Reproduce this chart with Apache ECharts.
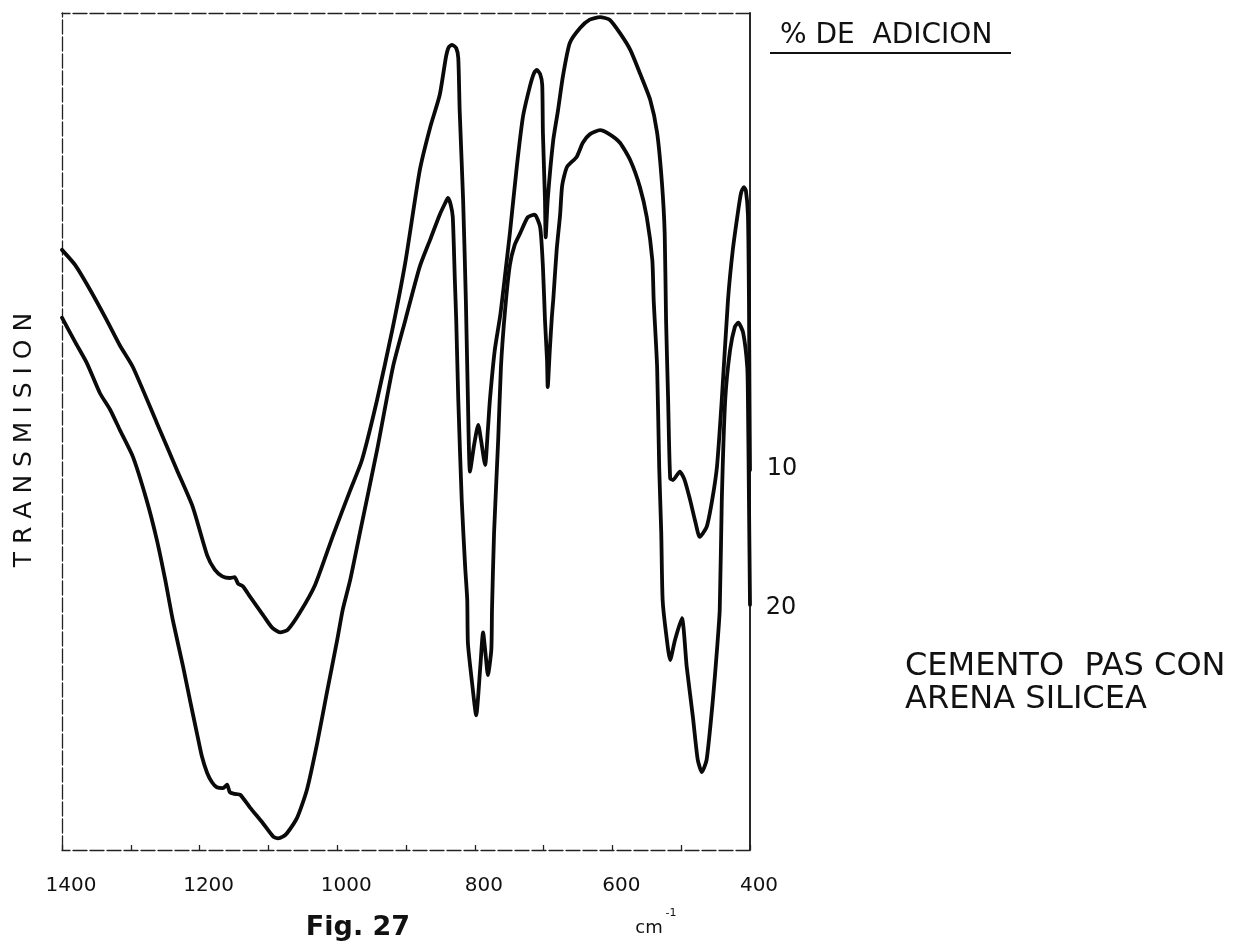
<!DOCTYPE html>
<html>
<head>
<meta charset="utf-8">
<script src="https://cdn.jsdelivr.net/npm/echarts@6/dist/echarts.min.js"></script>
<style>
  html, body { margin: 0; padding: 0; background: #fff; }
  #chart { width: 1249px; height: 950px; }
</style>
</head>
<body>
<div id="chart"></div>
<script>
// IR transmission spectra, wavenumber (cm-1) vs transmission (relative units)
const curve10Wn = [1400,1381,1359,1335,1316,1297,1262,1233,1210,1189,1178,1167,1156,1149,1144,1137,1127,1108,1095,1083,1072,1054,1032,1006,981,964,942,920,901,880,865,851,842,838,833,827,824,822,817,813,810,807,801,795,791,785,781,778,771,763,756,749,739,730,720,714,710,705,702,701,698,697,694,686,679,672,662,647,633,618,604,589,574,560,545,535,528,524,522,519,516,512,502,495,487,480,473,463,455,448,441,432,425,417,413,409,406,403,401.5,400.7,400];
const curve10T  = [71.7,69.9,66.9,63.3,60.3,57.7,51.0,45.4,41.0,35.2,33.5,32.7,32.5,32.6,31.8,31.5,30.3,28.1,26.6,26.0,26.3,28.4,31.7,37.6,43.0,46.6,53.8,62.1,70.2,81.2,86.3,90.2,94.7,95.9,96.2,95.8,94.6,88.4,77.7,65.7,53.8,45.2,48.4,50.8,49.0,46.0,50.2,53.8,59.7,63.9,68.7,73.7,81.6,87.6,91.2,92.8,93.2,92.7,91.4,85.7,77.7,73.2,77.7,84.8,88.4,92.4,96.4,98.2,99.2,99.5,99.2,97.6,95.6,92.8,89.6,85.7,79.7,73.7,63.3,53.8,44.4,44.2,45.2,44.2,41.8,39.4,37.4,38.6,41.8,45.8,53.8,65.7,71.7,76.5,78.5,79.2,78.8,75.9,65.7,53.8,45.4];

const curve20Wn = [1400,1381,1364,1345,1330,1316,1297,1277,1262,1250,1239,1224,1214,1204,1197,1189,1182,1175,1166,1160,1156,1149,1141,1127,1108,1093,1086,1079,1073,1058,1044,1029,1015,1000,992,981,967,942,919,901,880,865,851,843,839,835,832,829,827,824,819,814,811,810,804,798,792,788,784,781,776,775,772,766,762,756,749,742,734,723,713,705,701,698,695,694,691,688,686,681,676,673,666,652,643,633,618,604,589,574,560,550,542,540,535,532,529,527,522,516,509,499,492,483,476,470,463,454,448,444,441,436,429,422,417,410,404,403,401.5,400];
const curve20T  = [63.6,60.7,58.2,54.6,52.6,50.2,47.0,41.8,37.0,32.3,27.5,21.9,17.9,14.0,11.3,9.2,8.1,7.5,7.4,7.8,6.9,6.7,6.6,5.1,3.2,1.6,1.4,1.6,2.0,3.9,7.2,12.8,18.8,25.1,28.7,32.3,37.9,47.8,57.7,63.3,69.7,72.9,75.9,77.3,77.9,77.1,75.6,68.1,63.3,53.8,41.8,33.8,29.9,24.7,20.0,16.1,21.9,26.0,23.1,20.9,23.9,28.7,37.9,49.0,57.7,64.5,69.9,72.3,73.7,75.6,75.9,74.4,69.7,63.3,58.5,55.3,59.7,63.7,65.7,71.7,75.9,79.4,81.6,82.8,84.5,85.5,86.0,85.5,84.5,82.4,79.2,75.6,70.5,65.7,57.7,45.8,37.9,29.9,25.9,22.7,25.1,27.7,21.9,15.9,10.8,9.3,10.8,17.9,23.9,28.7,41.8,53.8,59.7,62.5,63.0,61.8,57.7,53.8,41.8,29.3];

const seriesNames = ['10', '20'];
const xTickLabels = [1400, 1200, 1000, 800, 600, 400];

const zip = (a, b) => a.map((v, i) => [v, b[i]]);

const chart = echarts.init(document.getElementById('chart'), null, { renderer: 'canvas' });

const frameDash = { color: '#222', width: 1.3, type: [14, 3] };
const ink = '#0a0a0a';
const font = 'DejaVu Sans';

const lineSeries = (name, wn, t) => ({
  name: name,
  type: 'line',
  data: zip(wn, t),
  showSymbol: false,
  smooth: 0.2,
  lineStyle: { color: ink, width: 3.8, cap: 'round', join: 'round' },
  silent: true
});

chart.setOption({
  animation: false,
  backgroundColor: '#fff',
  grid: { left: 62, right: 499, top: 13, bottom: 100 },
  xAxis: [
    {
      type: 'value',
      min: 400, max: 1400, interval: 100,
      inverse: true,
      position: 'bottom',
      axisLine: { show: true, lineStyle: frameDash },
      axisTick: { show: true, inside: true, length: 5, lineStyle: { color: '#222', width: 1.3 } },
      axisLabel: {
        show: true, margin: 26, padding: [0, 0, 0, 18],
        color: '#111', fontFamily: font, fontSize: 20,
        formatter: v => (xTickLabels.indexOf(v) >= 0 ? String(v) : '')
      },
      splitLine: { show: false }
    },
    {
      type: 'value',
      min: 400, max: 1400,
      inverse: true,
      position: 'top',
      axisLine: { show: true, onZero: false, lineStyle: frameDash },
      axisTick: { show: false },
      axisLabel: { show: false },
      splitLine: { show: false }
    }
  ],
  yAxis: [
    {
      type: 'value', min: 0, max: 100,
      position: 'left',
      axisLine: { show: true, onZero: false, lineStyle: frameDash },
      axisTick: { show: false },
      axisLabel: { show: false },
      splitLine: { show: false }
    },
    {
      type: 'value', min: 0, max: 100,
      position: 'right',
      axisLine: { show: true, onZero: false, lineStyle: { color: '#111', width: 1.8 } },
      axisTick: { show: false },
      axisLabel: { show: false },
      splitLine: { show: false }
    }
  ],
  series: [
    lineSeries(seriesNames[0], curve10Wn, curve10T),
    lineSeries(seriesNames[1], curve20Wn, curve20T)
  ],
  graphic: [
    {
      type: 'text', x: 24, y: 440, rotation: Math.PI / 2,
      style: { text: 'T R A N S M I S I O N', align: 'center', verticalAlign: 'middle',
               font: '25px "DejaVu Sans"', fill: '#111' }
    },
    {
      type: 'text', x: 780, y: 36,
      style: { text: '% DE  ADICION', align: 'left', verticalAlign: 'middle',
               font: '28px "DejaVu Sans"', fill: '#111' }
    },
    {
      type: 'line', shape: { x1: 770, y1: 53, x2: 1011, y2: 53 },
      style: { stroke: '#111', lineWidth: 2 }
    },
    {
      type: 'text', x: 782, y: 469,
      style: { text: seriesNames[0], align: 'center', verticalAlign: 'middle',
               font: '24px "DejaVu Sans"', fill: '#111' }
    },
    {
      type: 'text', x: 781, y: 608,
      style: { text: seriesNames[1], align: 'center', verticalAlign: 'middle',
               font: '24px "DejaVu Sans"', fill: '#111' }
    },
    {
      type: 'text', x: 905, y: 667,
      style: { text: 'CEMENTO  PAS CON', align: 'left', verticalAlign: 'middle',
               font: '32px "DejaVu Sans"', fill: '#111' }
    },
    {
      type: 'text', x: 905, y: 700,
      style: { text: 'ARENA SILICEA', align: 'left', verticalAlign: 'middle',
               font: '32px "DejaVu Sans"', fill: '#111' }
    },
    {
      type: 'text', x: 358, y: 928,
      style: { text: 'Fig. 27', align: 'center', verticalAlign: 'middle',
               font: 'bold 27px "DejaVu Sans"', fill: '#111' }
    },
    {
      type: 'text', x: 649, y: 928,
      style: { text: 'cm', align: 'center', verticalAlign: 'middle',
               font: '18px "DejaVu Sans"', fill: '#111' }
    },
    {
      type: 'text', x: 671, y: 913,
      style: { text: '-1', align: 'center', verticalAlign: 'middle',
               font: '11px "DejaVu Sans"', fill: '#111' }
    }
  ]
});
</script>
</body>
</html>
